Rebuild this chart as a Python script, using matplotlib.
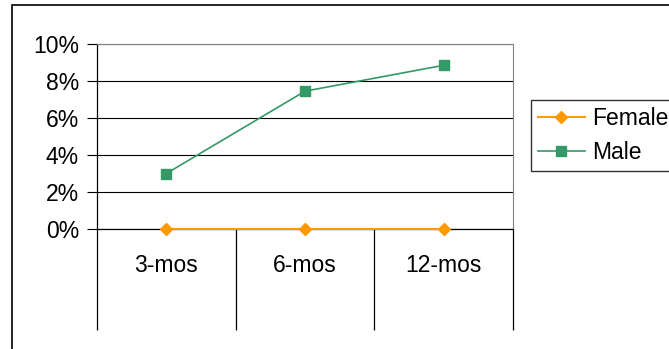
import matplotlib.pyplot as plt
import matplotlib.ticker as ticker
from matplotlib.patches import Rectangle
import matplotlib.transforms as mtransforms

plt.rcParams['font.family'] = ['Liberation Sans', 'DejaVu Sans']

categories = ["3-mos", "6-mos", "12-mos"]
female = [0.0, 0.0, 0.0]
male = [3.0, 7.45, 8.85]
yticks = [0, 2, 4, 6, 8, 10]

W, H = 669, 349
fig = plt.figure(figsize=(W / 100, H / 100), dpi=100)

# outer chart border (only left and top edges fall inside the picture)
fig.patches.append(Rectangle((12 / W, -0.1), 1.2, (H - 5) / H + 0.1,
                             transform=fig.transFigure, fill=False,
                             edgecolor="black", linewidth=1.2))

ax = fig.add_axes([97 / W, 1 - 229 / H, 416 / W, 185 / H])
x = list(range(len(categories)))

ax.plot(x, female, color="#FF9900", marker="D", markersize=6.5,
        linewidth=1.5, label="Female", clip_on=False, zorder=4)
ax.plot(x, male, color="#339966", marker="s", markersize=7,
        linewidth=1.2, label="Male", clip_on=False, zorder=4)

fs = 16.5
ax.set_xlim(-0.5, len(categories) - 0.5)
ax.set_ylim(0, 10)
ax.set_yticks(yticks)
ax.yaxis.set_major_formatter(ticker.FuncFormatter(lambda v, _: f"{v:.0f}%"))
ax.yaxis.grid(True, color="black", linewidth=0.8)
ax.set_axisbelow(True)

ax.set_xticks(x)
ax.set_xticklabels(categories)
ax.tick_params(axis="x", length=0, pad=18, labelsize=fs)
ax.tick_params(axis="y", length=7, width=0.8, labelsize=fs, pad=6)

for side in ["top", "right"]:
    ax.spines[side].set_color("#808080")
for side in ["left", "bottom"]:
    ax.spines[side].set_color("black")
    ax.spines[side].set_linewidth(0.9)

# category separators hanging below the axis
trans = mtransforms.blended_transform_factory(ax.transData, ax.transAxes)
bounds = [i - 0.5 for i in range(len(categories) + 1)]
ax.vlines(bounds, -(330 - 229) / 185, 0, transform=trans, color="black",
          linewidth=0.9, clip_on=False)

fig.legend(loc="upper left", bbox_to_anchor=(531 / W, 1 - 100 / H),
           frameon=True, fancybox=False, edgecolor="black", fontsize=fs,
           handlelength=2.05, borderpad=0.3, labelspacing=0.5,
           handletextpad=0.3, borderaxespad=0)

plt.savefig("out.png", dpi=100)
